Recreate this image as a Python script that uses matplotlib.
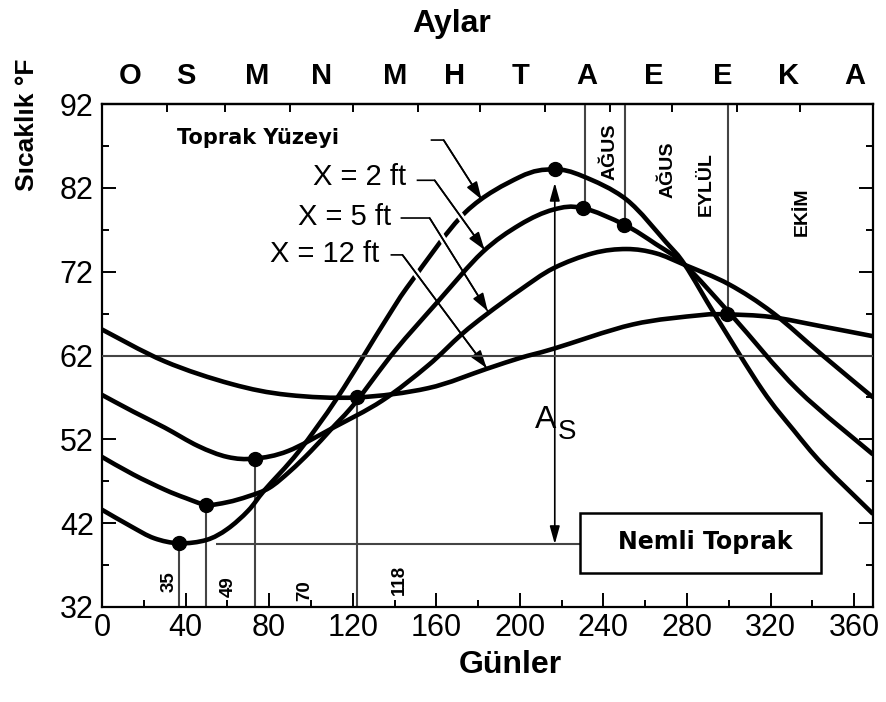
import matplotlib
matplotlib.use('Agg')
import matplotlib.pyplot as plt
import matplotlib.patheffects as pe
from matplotlib.patches import Rectangle, PathPatch
from matplotlib.path import Path

plt.rcParams['font.family'] = ['Liberation Sans', 'DejaVu Sans']

# soil temperature curves (day of year, deg F)
surface_days = [0, 14, 25, 37, 50, 60, 70, 78, 94, 113, 136, 148, 174, 200, 216, 230, 251, 270, 279, 294, 316, 331, 345, 369]
surface_temp = [43.6, 41.6, 40.2, 39.6, 40.0, 41.3, 43.5, 46.0, 50.5, 57.1, 66.3, 70.8, 79.1, 83.3, 84.2, 83.4, 80.6, 75.5, 72.8, 66.6, 57.9, 53.1, 49.0, 43.1]

ft2_days = [0, 15, 30, 40, 50, 60, 70, 80, 90, 100, 110, 121, 140, 161, 182, 200, 216, 230, 250, 265, 279, 302, 333, 369]
ft2_temp = [49.9, 47.8, 46.0, 45.0, 44.2, 44.5, 45.2, 46.2, 48.2, 50.6, 53.3, 56.3, 62.5, 68.5, 74.3, 77.6, 79.4, 79.6, 77.6, 75.3, 72.8, 66.6, 57.9, 50.2]

ft5_days = [0, 15, 30, 46, 60, 73, 89, 110, 134, 156, 172, 184, 200, 216, 235, 251, 265, 279, 300, 321, 344, 369]
ft5_temp = [57.3, 55.3, 53.4, 51.2, 49.9, 49.7, 50.6, 53.3, 56.6, 60.8, 64.5, 66.9, 69.8, 72.4, 74.2, 74.7, 74.2, 72.8, 70.5, 67.1, 62.2, 57.0]

ft12_days = [0, 30, 62, 89, 122, 156, 184, 200, 216, 254, 286, 299, 320, 344, 369]
ft12_temp = [65.1, 61.3, 58.6, 57.3, 57.0, 58.1, 60.4, 61.7, 62.8, 65.7, 66.8, 66.9, 66.6, 65.5, 64.3]

# marked minima / maxima
dot_days = [37, 50, 73, 122, 217, 230, 250, 299]
dot_temp = [39.6, 44.2, 49.7, 57.0, 84.2, 79.6, 77.6, 66.9]

# drop lines from the bottom axis to the minima
low_days = [37, 50, 73, 122]
low_temp = [39.6, 44.2, 49.7, 57.0]
low_labels = ['35', '49', '70', '118']
# drop lines from the top axis to the late-summer points
high_days = [231, 250.5, 299.5]
high_temp = [79.6, 77.6, 66.9]
high_labels = ['AĞUS', 'AĞUS', 'EYLÜL', 'EKİM']

mean_temp = 62
moist_temp = 39.5
amp_day = 216.7

month_labels = ['O', 'S', 'M', 'N', 'M', 'H', 'T', 'A', 'E', 'E', 'K', 'A']
month_pos = [13.3, 40.3, 74.5, 105, 140.5, 168.6, 200.4, 232.2, 264, 297, 328.8, 360.5]
month_edges = [31, 59, 90, 120, 151, 181, 212, 243, 273, 304, 334]


def smooth_path(xs, ys):
    # Catmull-Rom through the read points, drawn as cubic bezier segments
    pts = list(zip(xs, ys))
    verts = [pts[0]]
    codes = [Path.MOVETO]
    n = len(pts)
    for i in range(n - 1):
        p0 = pts[max(i - 1, 0)]
        p1 = pts[i]
        p2 = pts[i + 1]
        p3 = pts[min(i + 2, n - 1)]
        c1 = (p1[0] + (p2[0] - p0[0]) / 6, p1[1] + (p2[1] - p0[1]) / 6)
        c2 = (p2[0] - (p3[0] - p1[0]) / 6, p2[1] - (p3[1] - p1[1]) / 6)
        verts += [c1, c2, p2]
        codes += [Path.CURVE4] * 3
    return Path(verts, codes)


fig = plt.figure(figsize=(8.86, 7.02), dpi=100)
ax = fig.add_axes([102 / 886, 1 - 607 / 702, (873 - 102) / 886, (607 - 104) / 702])
ax.set_xlim(0, 369)
ax.set_ylim(32, 92)

ax.set_xticks(range(0, 361, 40))
ax.set_xticks(range(0, 361, 20), minor=True)
ax.set_yticks(range(32, 93, 10))
ax.set_yticks(range(32, 93, 5), minor=True)
ax.tick_params(which='both', direction='in', right=True, width=1.4, labelsize=22)
ax.tick_params(which='major', length=10)
ax.tick_params(which='minor', length=5)
ax.tick_params(axis='x', pad=4)
ax.tick_params(axis='y', pad=6)
for sp in ax.spines.values():
    sp.set_linewidth(1.6)

top = ax.secondary_xaxis('top')
top.set_xticks(month_edges, labels=[''] * len(month_edges))
top.set_xticks(month_pos, labels=month_labels, minor=True)
top.tick_params(which='major', direction='in', length=6, width=1.4)
top.tick_params(which='minor', length=0, pad=10, labelsize=21)
for lbl in top.get_xticklabels(minor=True):
    lbl.set_fontweight('bold')
top.spines['top'].set_linewidth(1.6)

curve_kw = dict(fill=False, ec='black', lw=3.3, joinstyle='round', capstyle='butt')
ax.add_patch(PathPatch(smooth_path(surface_days, surface_temp), zorder=2, **curve_kw))
ax.add_patch(PathPatch(smooth_path(ft2_days, ft2_temp), zorder=4, **curve_kw))
ax.add_patch(PathPatch(smooth_path(ft5_days, ft5_temp), zorder=4, **curve_kw))
ax.add_patch(PathPatch(smooth_path(ft12_days, ft12_temp), zorder=4, **curve_kw))
ax.plot(dot_days, dot_temp, 'o', color='black', ms=10, zorder=5)

ref_kw = dict(color='#444444', lw=1.5)
ax.axhline(mean_temp, zorder=3.5, **ref_kw)
ax.vlines(low_days, 32, low_temp, zorder=1, **ref_kw)
ax.vlines(high_days, high_temp, 92, zorder=1, **ref_kw)
ax.hlines(moist_temp, 54.6, 228.7, zorder=1, **ref_kw)

for lab, x, y in zip(low_labels, [32.1, 60.4, 96.8, 142.4], [35.0, 34.4, 34.0, 35.2]):
    ax.text(x, y, lab, rotation=90, ha='center', va='center', fontsize=13.5, fontweight='bold')
for lab, x, y in zip(high_labels, [243.0, 270.9, 289.1, 335.1], [86.3, 84.1, 82.5, 79.2]):
    ax.text(x, y, lab, rotation=90, ha='center', va='center', fontsize=14, fontweight='bold')

# amplitude arrow
ax.annotate('', xy=(amp_day, 82.6), xytext=(amp_day, moist_temp),
            arrowprops=dict(arrowstyle='<|-|>,head_length=0.9,head_width=0.25', color='black',
                            lw=1.2, shrinkA=0, shrinkB=0, mutation_scale=12), zorder=3)
ax.text(212.3, 54.3, 'A', fontsize=23, ha='center', va='center')
ax.text(222.6, 52.9, 'S', fontsize=20, ha='center', va='center')

# Nemli Toprak box
ax.add_patch(Rectangle((228.7, 36.1), 115.5, 7.1, fill=False, lw=1.8, ec='black', zorder=3))
ax.text(288.5, 39.7, 'Nemli Toprak', ha='center', va='center', fontsize=17,
        fontweight='bold', family='DejaVu Sans')

# curve labels with leader arrows
halo = [pe.withStroke(linewidth=5, foreground='white')]
arrow_kw = dict(arrowstyle='-|>,head_length=0.9,head_width=0.3', color='black', lw=1.2,
                shrinkA=0, shrinkB=0, mutation_scale=12)


def leader(pts, gap):
    xs, ys = zip(*pts)
    ax.plot(xs, ys, color='black', lw=1.2, zorder=3, path_effects=halo if gap else None)
    ax.annotate('', xy=pts[-1], xytext=pts[-2], arrowprops=arrow_kw, zorder=3)


ax.text(36, 87.9, 'Toprak Yüzeyi', ha='left', va='center', fontsize=15,
        fontweight='bold', family='DejaVu Sans')
leader([(157.7, 87.7), (163.5, 87.7), (181.7, 80.6)], False)

ax.text(145.7, 83.3, 'X = 2 ft', ha='right', va='center', fontsize=21)
leader([(151.0, 82.9), (159.2, 82.9), (183.1, 74.6)], True)
ax.text(138.5, 78.5, 'X = 5 ft', ha='right', va='center', fontsize=21)
leader([(143.3, 78.4), (156.8, 78.4), (184.6, 67.3)], True)
ax.text(132.8, 74.1, 'X = 12 ft', ha='right', va='center', fontsize=21)
leader([(138.5, 74.0), (143.8, 74.0), (184.1, 60.5)], True)

fig.text(452 / 886, 1 - 24 / 702, 'Aylar', ha='center', va='center', fontsize=23, fontweight='bold')
fig.text(27 / 886, 1 - 125 / 702, 'Sıcaklık °F', ha='center', va='center', rotation=90,
         fontsize=19, fontweight='bold')
fig.text(510 / 886, 1 - 665 / 702, 'Günler', ha='center', va='center', fontsize=23, fontweight='bold')

fig.savefig('out.png', dpi=100)
